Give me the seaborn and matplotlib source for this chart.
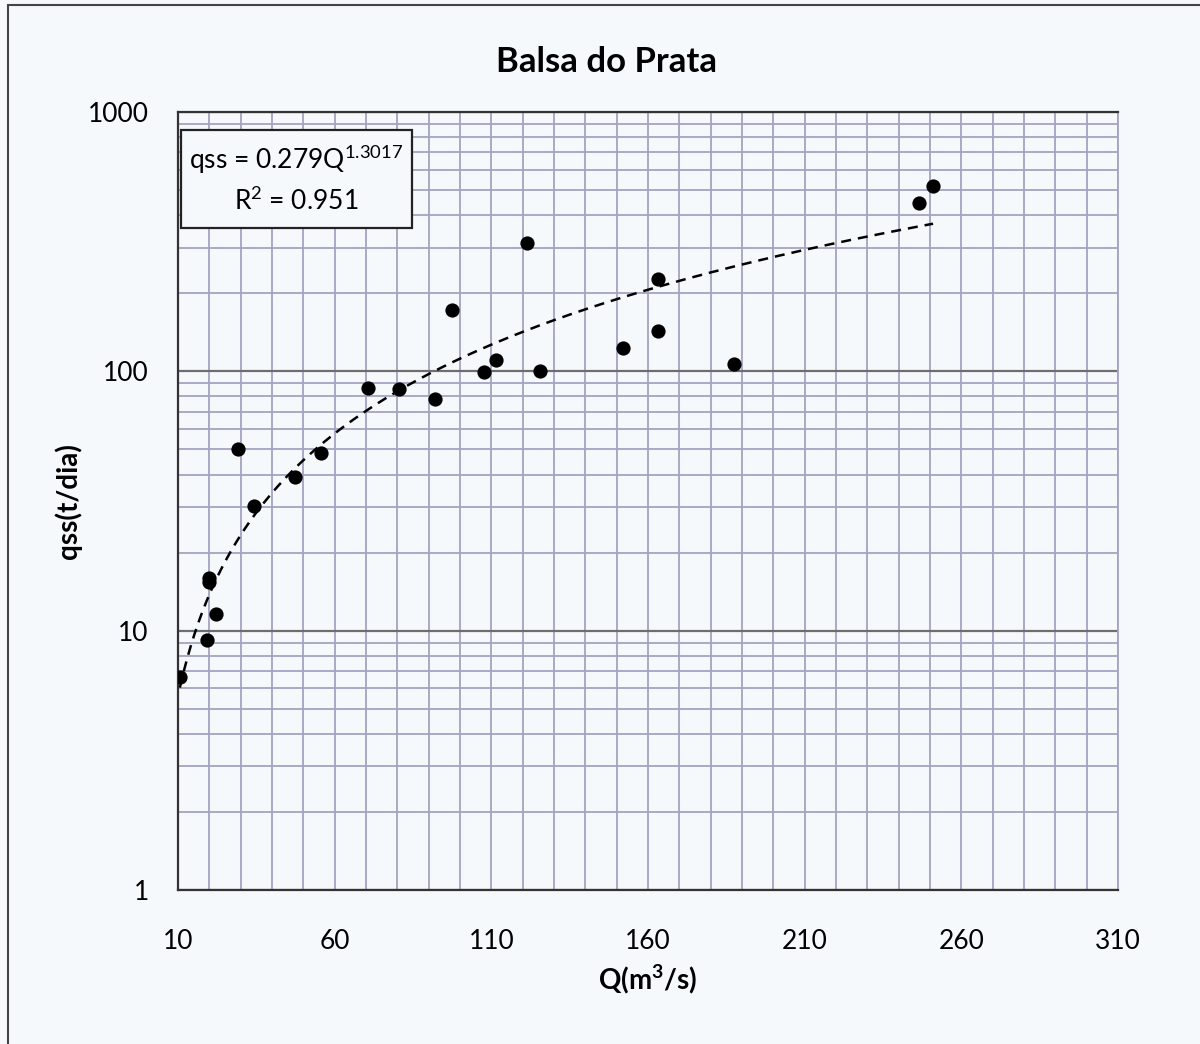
import numpy as np
import pandas as pd
import matplotlib
matplotlib.use("Agg")
import matplotlib.pyplot as plt
import seaborn as sns
from matplotlib.ticker import MultipleLocator, LogLocator, FixedLocator, NullFormatter
from matplotlib.patches import Rectangle

# vazao x descarga solida
vazao = [10.6, 19.3, 19.9, 20.0, 22.1, 29.2, 34.3, 47.3, 55.6, 70.6, 80.5, 92.0,
         97.5, 107.7, 111.5, 121.4, 125.5, 152.0, 163.2, 163.2, 187.5, 246.5, 251.0]
qss = [6.6, 9.2, 15.4, 16.0, 11.6, 50.0, 30.3, 39.0, 48.4, 86.0, 85.5, 78.0,
       172.0, 99.0, 111.0, 312.0, 100.0, 123.0, 227.0, 143.0, 107.0, 446.0, 519.0]

# linha de tendencia (potencia) mostrada no grafico
coef_a = 0.279
coef_b = 1.3017
r2 = 0.951

x_ticks = [10, 60, 110, 160, 210, 260, 310]
y_ticks = [1, 10, 100, 1000]

titulo = "Balsa do Prata"
eixo_x = "Q(m$^{\\mathregular{3}}$/s)"
eixo_y = "qss(t/dia)"

sns.set_style("white")
plt.rcParams["font.family"] = ["Lato", "DejaVu Sans"]
plt.rcParams["mathtext.default"] = "regular"

bg = "#f6f9fc"
grid_c = "#a3a3c2"
major_c = "#6e6e6e"
dark = "#333333"

fig = plt.figure(figsize=(12, 10.44), dpi=100, facecolor=bg)
ax = fig.add_axes([0.1483, 0.1475, 0.7833, 0.7452])
ax.set_facecolor(bg)

df = pd.DataFrame({"Q": vazao, "qss": qss})
q_fit = np.linspace(min(vazao), max(vazao), 200)
fit = pd.DataFrame({"Q": q_fit, "qss": coef_a * q_fit ** coef_b})

ax.set_yscale("log")
ax.set_xlim(10, 310)
ax.set_ylim(1, 1000)

# grade
ax.xaxis.set_major_locator(FixedLocator(x_ticks))
ax.xaxis.set_minor_locator(MultipleLocator(10))
ax.yaxis.set_major_locator(FixedLocator(y_ticks))
ax.yaxis.set_minor_locator(LogLocator(base=10, subs=np.arange(2, 10)))
ax.yaxis.set_minor_formatter(NullFormatter())
ax.grid(which="minor", axis="both", color=grid_c, linewidth=1.3)
ax.grid(which="major", axis="x", color=grid_c, linewidth=1.3)
ax.grid(which="major", axis="y", color=major_c, linewidth=1.6)
ax.set_axisbelow(True)

sns.lineplot(data=fit, x="Q", y="qss", ax=ax, color="black", linewidth=1.8,
             dashes=False, linestyle=(0, (4, 2.8)), zorder=3)
sns.scatterplot(data=df, x="Q", y="qss", ax=ax, color="black", s=105,
                edgecolor="black", linewidth=0, zorder=4)

ax.set_xticklabels([str(t) for t in x_ticks])
ax.set_yticklabels([str(t) for t in y_ticks])
ax.tick_params(axis="both", which="major", labelsize=19, direction="out",
               length=9, width=1.4, color=dark, labelcolor="black", pad=19)
ax.tick_params(axis="both", which="minor", length=0)
ax.tick_params(axis="y", pad=12)

for side in ["left", "bottom", "top"]:
    ax.spines[side].set_color(dark)
    ax.spines[side].set_linewidth(1.6)
ax.spines["right"].set_color(grid_c)
ax.spines["right"].set_linewidth(1.3)

ax.set_xlabel(eixo_x, fontsize=20, fontweight="bold", labelpad=6, color="black")
ax.set_ylabel(eixo_y, fontsize=20, fontweight="bold", labelpad=4, color="black")
fig.text(606 / 1200, 1 - 62 / 1044, titulo, fontsize=25, fontweight="bold",
         ha="center", va="center", color="black")

# caixa da equacao
ax.add_patch(Rectangle((0.003, 0.851), 0.246, 0.126, transform=ax.transAxes,
                       facecolor=bg, edgecolor="#222222", linewidth=1.6, zorder=5))
ax.text(0.126, 0.939, "qss = 0.279Q$^{\\mathregular{1.3017}}$", transform=ax.transAxes,
        ha="center", va="center", fontsize=19, color="black", zorder=6)
ax.text(0.126, 0.886, "R$^{\\mathregular{2}}$ = 0.951", transform=ax.transAxes,
        ha="center", va="center", fontsize=19, color="black", zorder=6)

# moldura externa do grafico
fig.add_artist(Rectangle((0.007, -0.2), 1.3, 1.195, transform=fig.transFigure,
                         facecolor="none", edgecolor="#444444", linewidth=1.5))

fig.savefig("out.png", dpi=100, facecolor=bg)
plt.close(fig)
